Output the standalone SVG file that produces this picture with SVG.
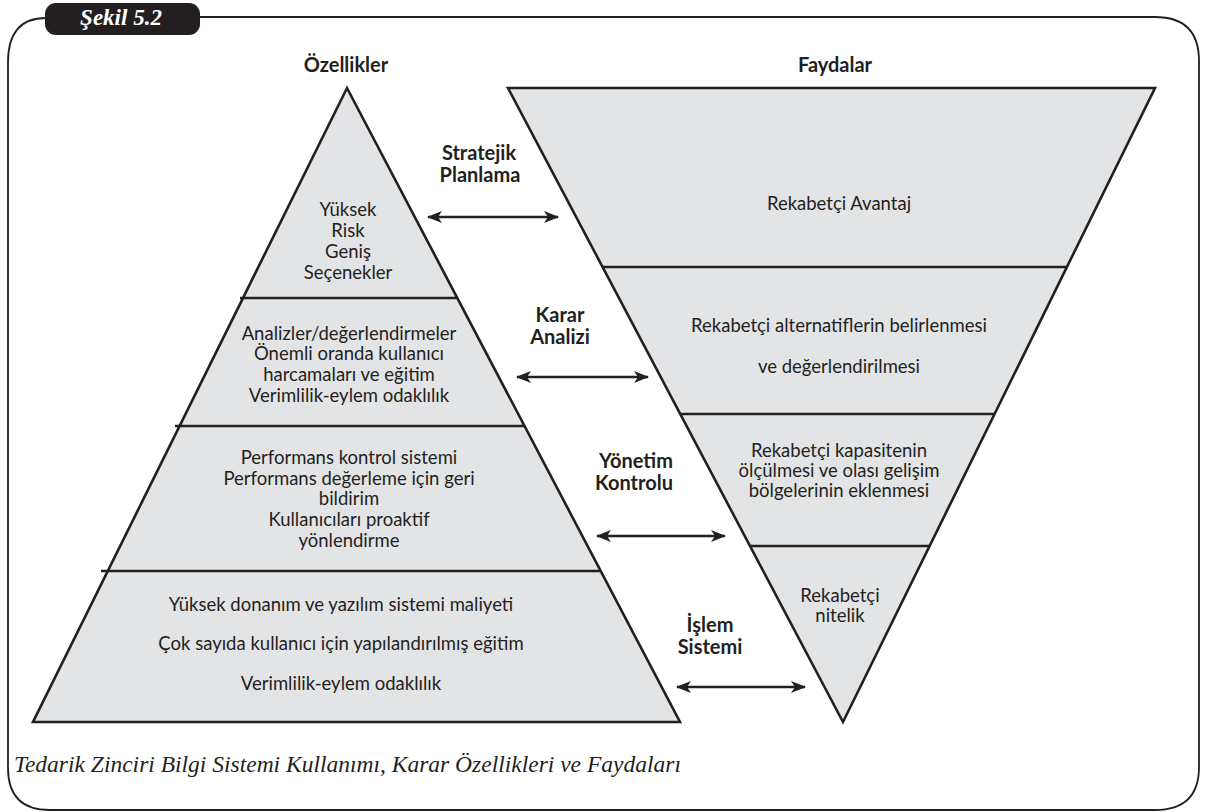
<svg xmlns="http://www.w3.org/2000/svg" width="1205" height="812" viewBox="0 0 1205 812">
<style>
.shape{fill:#e3e4e6;stroke:#231f20;stroke-width:2.6;stroke-linejoin:miter}
.div{stroke:#231f20;stroke-width:2.5;fill:none}
.t{font-family:Lato,"Liberation Sans",sans-serif;font-size:18.5px;fill:#231f20;text-anchor:middle}
.b{font-family:Lato,"Liberation Sans",sans-serif;font-size:20px;font-weight:bold;fill:#231f20;text-anchor:middle}
.arr{stroke:#231f20;stroke-width:2.5;fill:none;marker-start:url(#ah);marker-end:url(#ah)}
</style>
<defs>
<marker id="ah" markerUnits="userSpaceOnUse" markerWidth="15" markerHeight="13" viewBox="0 0 15 12" refX="14" refY="6" orient="auto-start-reverse">
<path d="M0,0 L15,6 L0,12 L4,6 z" fill="#231f20"/>
</marker>
</defs>
<rect width="1205" height="812" fill="#ffffff"/>
<g id="frame">
<path d="M200,17 H1155 Q1199,17 1199,61 V767 Q1199,810 1155,810 H50 Q8,810 8,768 V62 Q8,18 46,18" fill="none" stroke="#231f20" stroke-width="1.8"/>
<rect x="45" y="3" width="155" height="32" rx="11" fill="#231f20"/>
<text x="121" y="25" font-family="Liberation Serif,serif" font-size="23" font-style="italic" font-weight="bold" fill="#ffffff" text-anchor="middle">Şekil 5.2</text>
</g>
<g id="pyramid">
<polygon class="shape" points="347,88 680,722 33,722"/>
<line class="div" x1="240" y1="298" x2="457" y2="298"/>
<line class="div" x1="175" y1="426" x2="524" y2="426"/>
<line class="div" x1="101" y1="571" x2="601" y2="571"/>
<text class="b" x="346" y="72">Özellikler</text>
</g>
<g id="p1">
<text class="t" x="348" y="216">Yüksek</text>
<text class="t" x="348" y="237">Risk</text>
<text class="t" x="348" y="258">Geniş</text>
<text class="t" x="348" y="279">Seçenekler</text>
</g>
<g id="p2">
<text class="t" x="349" y="340">Analizler/değerlendirmeler</text>
<text class="t" x="349" y="360">Önemli oranda kullanıcı</text>
<text class="t" x="349" y="381">harcamaları ve eğitim</text>
<text class="t" x="349" y="402">Verimlilik-eylem odaklılık</text>
</g>
<g id="p3">
<text class="t" x="349" y="464">Performans kontrol sistemi</text>
<text class="t" x="349" y="485">Performans değerleme için geri</text>
<text class="t" x="349" y="505">bildirim</text>
<text class="t" x="349" y="526">Kullanıcıları proaktif</text>
<text class="t" x="349" y="547">yönlendirme</text>
</g>
<g id="p4">
<text class="t" x="341" y="611">Yüksek donanım ve yazılım sistemi maliyeti</text>
<text class="t" x="341" y="650">Çok sayıda kullanıcı için yapılandırılmış eğitim</text>
<text class="t" x="341" y="690">Verimlilik-eylem odaklılık</text>
</g>
<g id="funnel">
<polygon class="shape" points="508,88 1155,88 843,722"/>
<line class="div" x1="603" y1="267" x2="1067" y2="267"/>
<line class="div" x1="680" y1="414" x2="995" y2="414"/>
<line class="div" x1="750" y1="546" x2="930" y2="546"/>
<text class="b" x="835" y="72">Faydalar</text>
</g>
<g id="f1">
<text class="t" x="839" y="210">Rekabetçi Avantaj</text>
</g>
<g id="f2">
<text class="t" x="839" y="332">Rekabetçi alternatiflerin belirlenmesi</text>
<text class="t" x="839" y="373">ve değerlendirilmesi</text>
</g>
<g id="f3">
<text class="t" x="839" y="457">Rekabetçi kapasitenin</text>
<text class="t" x="839" y="477">ölçülmesi ve olası gelişim</text>
<text class="t" x="839" y="497">bölgelerinin eklenmesi</text>
</g>
<g id="f4">
<text class="t" x="840" y="602">Rekabetçi</text>
<text class="t" x="840" y="622">nitelik</text>
</g>
<g id="labels">
<text class="b" x="479" y="160">Stratejik</text>
<text class="b" x="480" y="182">Planlama</text>
<text class="b" x="560" y="322">Karar</text>
<text class="b" x="560" y="344">Analizi</text>
<text class="b" x="636" y="468">Yönetim</text>
<text class="b" x="634" y="490">Kontrolu</text>
<text class="b" x="710" y="632">İşlem</text>
<text class="b" x="710" y="654">Sistemi</text>
</g>
<g id="connectors">
<line class="arr" x1="428" y1="217" x2="558" y2="217"/>
<line class="arr" x1="517" y1="377" x2="648" y2="377"/>
<line class="arr" x1="597" y1="536" x2="725" y2="536"/>
<line class="arr" x1="677" y1="687" x2="805" y2="687"/>
</g>
<text x="14" y="772" font-family="Liberation Serif,serif" font-size="23.5" font-style="italic" fill="#231f20">Tedarik Zinciri Bilgi Sistemi Kullanımı, Karar Özellikleri ve Faydaları</text>
</svg>
